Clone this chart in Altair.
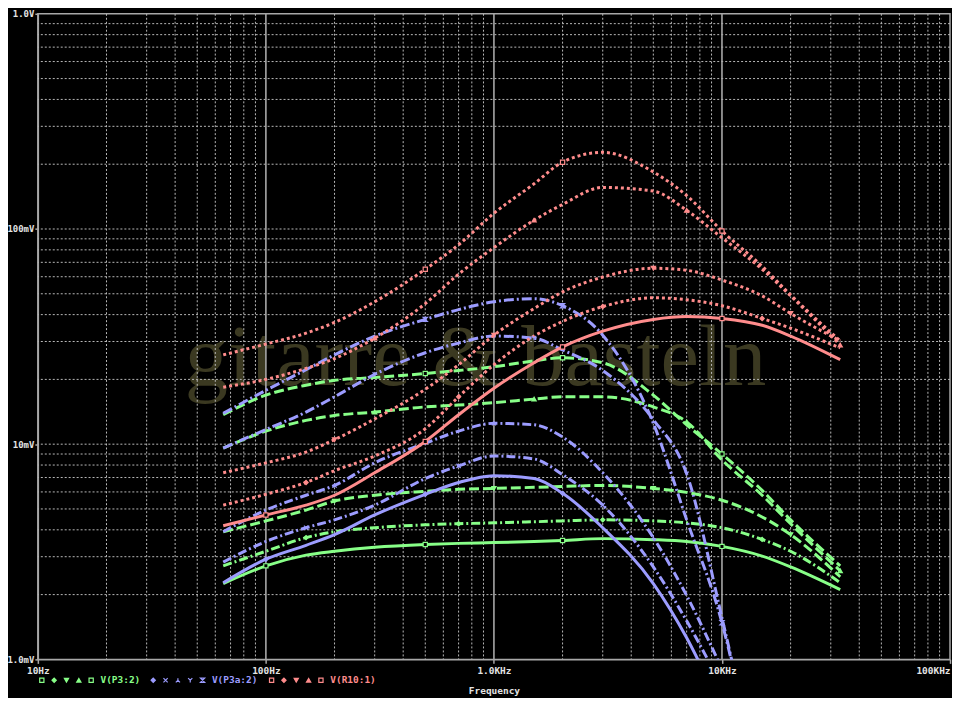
import altair as alt
import pandas as pd

# ---------------- data ----------------
freqs = [65, 100, 150, 200, 300, 500, 700, 1000, 1500, 2000, 3000, 5000,
         7000, 10000, 15000, 20000, 33000]

# V(P3:2) in mV, five parametric runs
p3_runs = [
    [2.25, 2.72, 3.05, 3.18, 3.32, 3.42, 3.46, 3.49, 3.53, 3.57, 3.64, 3.60, 3.53, 3.35, 3.02, 2.69, 2.11],
    [2.72, 3.18, 3.68, 3.92, 4.09, 4.22, 4.27, 4.31, 4.36, 4.40, 4.45, 4.40, 4.31, 4.09, 3.61, 3.18, 2.27],
    [3.92, 4.40, 4.94, 5.44, 5.79, 6.04, 6.17, 6.23, 6.30, 6.36, 6.43, 6.23, 5.97, 5.49, 4.59, 3.80, 2.42],
    [9.59, 11.5, 12.9, 13.6, 14.1, 14.9, 15.2, 15.6, 16.2, 16.6, 16.6, 14.9, 12.7, 8.45, 5.79, 4.27, 2.58],
    [13.7, 16.9, 18.8, 19.8, 20.4, 21.3, 22.0, 22.9, 24.4, 25.2, 23.9, 16.9, 12.3, 9.00, 6.10, 4.45, 2.72],
]
# V(P3a:2) in mV (falls below 1 mV near 8-12 kHz)
p3a_runs = [
    [2.27, 2.92, 3.39, 3.80, 4.69, 5.85, 6.64, 7.14, 6.92, 5.91, 4.09, 2.25, 1.26, 0.58],
    [2.83, 3.53, 4.09, 4.45, 5.21, 6.92, 7.93, 8.81, 8.54, 7.22, 5.21, 2.69, 1.51, 0.745],
    [3.92, 4.94, 5.79, 6.43, 8.19, 10.1, 11.5, 12.5, 12.3, 10.8, 7.37, 3.68, 1.98, 0.90],
    [9.59, 11.7, 14.1, 16.6, 21.1, 26.6, 29.5, 31.8, 31.1, 27.4, 22.0, 13.0, 7.29, 1.56, 0.23],
    [13.9, 17.8, 22.2, 26.0, 31.8, 38.0, 42.2, 45.9, 47.4, 44.0, 32.1, 12.5, 4.45, 1.48, 0.20],
]
# V(R10:1) in mV
r10_runs = [
    [4.18, 4.69, 5.21, 5.79, 7.37, 10.3, 13.7, 18.2, 23.9, 28.3, 33.5, 38.0, 39.2, 38.4, 35.7, 31.8, 24.7],
    [5.21, 5.85, 6.64, 7.53, 8.81, 11.8, 16.6, 23.4, 31.8, 37.2, 43.6, 47.9, 46.9, 44.0, 38.4, 34.6, 28.0],
    [7.37, 8.19, 9.19, 10.5, 13.1, 18.0, 23.4, 32.1, 42.7, 51.0, 59.8, 65.7, 64.3, 57.9, 48.9, 40.5, 30.2],
    [18.4, 20.0, 22.5, 25.0, 31.1, 45.0, 61.7, 81.9, 109.9, 130.1, 156.0, 150.0, 122.1, 91.0, 65.0, 48.9, 28.9],
    [26.0, 29.2, 32.8, 36.8, 45.9, 65.0, 84.5, 118.3, 162.2, 204.4, 227.1, 184.0, 143.0, 97.9, 67.1, 49.4, 30.2],
]

series_names = ["V(P3:2)", "V(P3a:2)", "V(R10:1)"]
x_ticks = [10, 100, 1000, 10000, 100000]
x_tick_labels = ["10Hz", "100Hz", "1.0KHz", "10KHz", "100KHz"]
y_ticks = [1, 10, 100, 1000]
y_tick_labels = ["1.0mV", "10mV", "100mV", "1.0V"]
x_title = "Frequency"
watermark_text = "gitarre & basteln"

# ---------------- styles ----------------
W, H = 917, 649
GREEN, BLUE, RED = "#88ff88", "#9c9cff", "#ff8c8c"
series_colors = [GREEN, BLUE, RED]
GRID = "#b8b8b8"
AXC = "#a8a8a8"
LBL = "#e4e4e4"
MONO = "DejaVu Sans Mono"

dash_styles = [
    [None, [9, 3, 2, 3], [10, 4], [10, 4], [10, 4]],
    [None, [9, 3, 2, 3], [9, 3, 2, 3], [10, 3, 2, 3], [10, 3, 2, 3]],
    [None, [3, 3], [3, 3], [3, 3], [3, 3]],
]

X_PATH = "M-1,-1L1,1M-1,1L1,-1"
Y_PATH = "M-1,-1L0,0L1,-1M0,0L0,1"
IY_PATH = "M-1,1L0,0L1,1M0,0L0,-1"
HG_PATH = "M-1,-1L1,-1L-1,1L1,1Z"
std_markers = [("square", False), ("diamond", True), ("triangle-down", True),
               ("triangle-up", True), ("square", False)]
blue_markers = [("diamond", True), (X_PATH, None), (IY_PATH, None),
                (Y_PATH, None), (HG_PATH, None)]
marker_sets = [std_markers, blue_markers, std_markers]

xs = alt.Scale(type="log", domain=[10, 100000], nice=False)
ys = alt.Scale(type="log", domain=[1, 1000], nice=False)


def label_expr(vals, labels):
    expr = "''"
    for v, l in zip(reversed(vals), reversed(labels)):
        expr = f"round(datum.value) == {v} ? '{l}' : ({expr})"
    return expr


x_axis = alt.Axis(
    values=x_ticks, labelExpr=label_expr(x_ticks, x_tick_labels), grid=False,
    domain=True, domainColor=AXC, domainWidth=1.5, ticks=True, tickColor=AXC,
    tickSize=4, tickWidth=1.5, labelColor=LBL, labelFont=MONO, labelFontSize=9.5,
    labelFontWeight="bold", labelPadding=2, labelOverlap=False,
    labelAlign={"condition": {"test": "datum.value >= 100000", "value": "right"}, "value": "center"},
    title=x_title, titleColor=LBL, titleFont=MONO, titleFontSize=9.5,
    titleFontWeight="bold", titlePadding=11,
)
y_axis = alt.Axis(
    values=y_ticks, labelExpr=label_expr(y_ticks, y_tick_labels), grid=False,
    domain=True, domainColor=AXC, domainWidth=1.5, ticks=True, tickColor=AXC,
    tickSize=3, tickWidth=1.5, labelColor=LBL, labelFont=MONO, labelFontSize=9,
    labelFontWeight="bold", labelPadding=1, labelOverlap=False, title=None,
)


def X(field):
    return alt.X(field, scale=xs, axis=x_axis)


def Y(field):
    return alt.Y(field, scale=ys, axis=y_axis)


layers = []

# watermark
layers.append(
    alt.Chart(pd.DataFrame({"t": [watermark_text]}))
    .mark_text(font="Liberation Serif", fontSize=87, color="#3b3921",
               align="center", baseline="alphabetic")
    .encode(text="t:N", x=alt.value(440), y=alt.value(373))
)

# grid
x_minor = [m * 10 ** k for k in range(1, 5) for m in range(2, 10)]
x_major = [100, 1000, 10000]
y_grid = [m * 10 ** k for k in range(0, 3) for m in range(1, 10) if m * 10 ** k > 1]

layers.append(
    alt.Chart(pd.DataFrame({"f": x_minor}))
    .mark_rule(color=GRID, strokeDash=[2, 2], strokeWidth=1)
    .encode(x=X("f:Q"))
)
layers.append(
    alt.Chart(pd.DataFrame({"v": y_grid}))
    .mark_rule(color=GRID, strokeDash=[2, 2], strokeWidth=1)
    .encode(y=Y("v:Q"))
)
layers.append(
    alt.Chart(pd.DataFrame({"f": x_major}))
    .mark_rule(color=AXC, strokeWidth=1.6)
    .encode(x=X("f:Q"))
)

# curves
all_runs = [p3_runs, p3a_runs, r10_runs]
marker_rows = []
for s, runs in enumerate(all_runs):
    for r, vals in enumerate(runs):
        df = pd.DataFrame({"f": freqs[:len(vals)], "v": vals})
        kw = dict(color=series_colors[s], strokeWidth=3, interpolate="monotone", clip=True)
        if dash_styles[s][r] is not None:
            kw["strokeDash"] = dash_styles[s][r]
        layers.append(alt.Chart(df).mark_line(**kw).encode(x=X("f:Q"), y=Y("v:Q")))
        shape, filled = marker_sets[s][r]
        fill = series_colors[s] if filled else ("#000000" if filled is False else "transparent")
        for i in (1 + r, 5 + r, 9 + r, 13 + r):
            if i < len(vals) and vals[i] >= 1:
                marker_rows.append({"f": freqs[i], "v": vals[i], "shape": shape,
                                    "stroke": series_colors[s], "fill": fill})

layers.append(
    alt.Chart(pd.DataFrame(marker_rows))
    .mark_point(size=18, strokeWidth=1.2, opacity=1)
    .encode(
        x=X("f:Q"), y=Y("v:Q"),
        shape=alt.Shape("shape:N", scale=None),
        stroke=alt.Stroke("stroke:N", scale=None),
        fill=alt.Fill("fill:N", scale=None),
    )
)

# legend (PSpice style, below the x labels)
LEG_Y = 670
group_x = [4, 116, 235]
leg_rows = []
for s in range(3):
    for k, (shape, filled) in enumerate(marker_sets[s]):
        fill = series_colors[s] if filled else ("#000000" if filled is False else "transparent")
        leg_rows.append({"px": group_x[s] + k * 12.4, "py": LEG_Y, "shape": shape,
                         "stroke": series_colors[s], "fill": fill})
layers.append(
    alt.Chart(pd.DataFrame(leg_rows))
    .mark_point(size=18, strokeWidth=1.2, opacity=1)
    .encode(
        x=alt.X("px:Q", scale=None, axis=None),
        y=alt.Y("py:Q", scale=None, axis=None),
        shape=alt.Shape("shape:N", scale=None),
        stroke=alt.Stroke("stroke:N", scale=None),
        fill=alt.Fill("fill:N", scale=None),
    )
)
for s in range(3):
    layers.append(
        alt.Chart(pd.DataFrame({"t": [series_names[s]]}))
        .mark_text(font=MONO, fontSize=9.5, fontWeight="bold", color=series_colors[s],
                   align="left", baseline="middle")
        .encode(text="t:N", x=alt.value(group_x[s] + 59), y=alt.value(LEG_Y))
    )

chart = (
    alt.layer(*layers)
    .properties(width=W, height=H,
                padding={"left": 30, "top": 4, "right": 2, "bottom": 37},
                autosize=alt.AutoSizeParams(type="none"))
    .configure(background="#000000")
    .configure_view(stroke=AXC, strokeWidth=1.5)
)

chart.save("out.html", embed_options={"renderer": "svg", "actions": False})
